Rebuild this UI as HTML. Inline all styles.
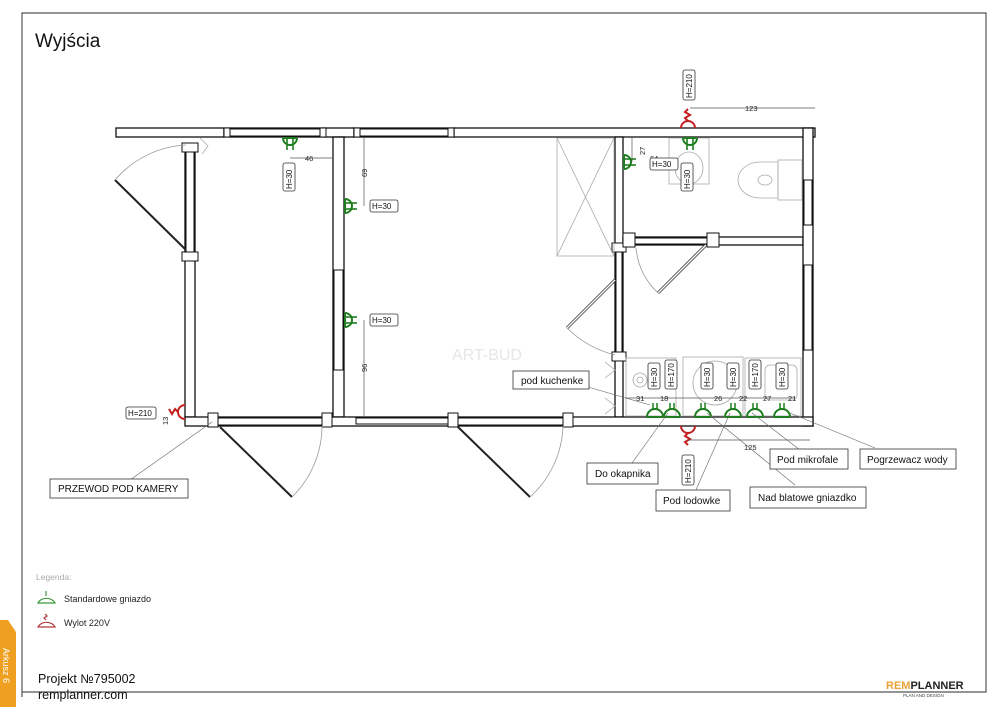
<!DOCTYPE html>
<html><head><meta charset="utf-8"><style>
html,body{margin:0;padding:0;background:#fff;width:1000px;height:707px;overflow:hidden}
svg{display:block}
text{font-family:"Liberation Sans",sans-serif}
</style></head><body>
<svg width="1000" height="707" viewBox="0 0 1000 707" xmlns="http://www.w3.org/2000/svg">
<defs>
<g id="sd"><path d="M-7,0 A7,7 0 0 0 7,0" fill="none" stroke="#1e7d1e" stroke-width="2"/><line x1="-7" y1="0" x2="7" y2="0" stroke="#1e7d1e" stroke-width="2"/><line x1="-3" y1="0" x2="-3" y2="12" stroke="#1e7d1e" stroke-width="1.6"/><line x1="3" y1="0" x2="3" y2="12" stroke="#1e7d1e" stroke-width="1.6"/></g>
<g id="su"><path d="M-8,0 A8,8 0 0 1 8,0" fill="none" stroke="#1e7d1e" stroke-width="2"/><line x1="-8" y1="0" x2="8" y2="0" stroke="#1e7d1e" stroke-width="2"/><line x1="-2" y1="-8" x2="-2" y2="-14" stroke="#1e7d1e" stroke-width="1.5"/><line x1="2" y1="-8" x2="2" y2="-14" stroke="#1e7d1e" stroke-width="1.5"/></g>
</defs>
<!-- frame -->
<polyline points="22,697 22,13 986,13 986,692 22,692" fill="none" stroke="#555" stroke-width="1.2"/>
<text x="35" y="47" font-size="19" fill="#111">Wyjścia</text>

<g stroke="#111" stroke-width="1.3" fill="#fff">
<!-- top wall -->
<rect x="116" y="128" width="108" height="9"/>
<rect x="224" y="128" width="100" height="9" fill="#fff"/>
<rect x="324" y="128" width="30" height="9"/>
<rect x="354" y="128" width="100" height="9"/>
<rect x="454" y="128" width="361" height="9"/>
<!-- left wall -->
<rect x="185" y="145" width="10" height="112" stroke-dasharray="0"/>
<rect x="185" y="257" width="10" height="160"/>
<!-- wall between room1 & room2 -->
<rect x="333" y="137" width="11" height="280"/>
<!-- wall between room2 & right -->
<rect x="615" y="137" width="8" height="280"/>
<!-- bathroom bottom wall -->
<rect x="623" y="237" width="180" height="8"/>
<!-- right wall -->
<rect x="803" y="128" width="10" height="298"/>
<!-- bottom wall -->
<rect x="185" y="417" width="628" height="9"/>
</g>
<!-- window/door insets -->
<g stroke="#111" stroke-width="1" fill="#fff">
<rect x="226" y="129" width="96" height="7"/><rect x="356" y="129" width="96" height="7"/>
<rect x="224" y="128" width="6" height="9"/><rect x="320" y="128" width="6" height="9"/><rect x="354" y="128" width="6" height="9"/><rect x="448" y="128" width="6" height="9"/>
<rect x="186" y="152" width="8" height="100"/>
<rect x="182" y="143" width="16" height="9"/><rect x="182" y="252" width="16" height="9"/>
<rect x="334" y="270" width="9" height="100"/>
<rect x="331" y="137" width="15" height="0.1"/>
<rect x="616" y="250" width="6" height="105"/>
<rect x="612" y="243" width="14" height="9"/><rect x="612" y="352" width="14" height="9"/>
<rect x="630" y="238" width="78" height="6"/>
<rect x="623" y="233" width="12" height="14"/><rect x="707" y="233" width="12" height="14"/>
<rect x="804" y="180" width="8" height="45"/><rect x="804" y="265" width="8" height="85"/>
<rect x="218" y="418" width="104" height="7"/><rect x="458" y="418" width="105" height="7"/>
<rect x="356" y="418" width="98" height="6"/>
<rect x="208" y="413" width="10" height="14"/><rect x="322" y="413" width="10" height="14"/>
<rect x="448" y="413" width="10" height="14"/><rect x="563" y="413" width="10" height="14"/>
</g>
<!-- doors -->
<g fill="none">
<line x1="186" y1="250" x2="115" y2="180" stroke="#222" stroke-width="2"/>
<path d="M115,180 A100,100 0 0 1 186,145" stroke="#999" stroke-width="0.8"/>
<line x1="220" y1="427" x2="292" y2="497" stroke="#222" stroke-width="2"/>
<path d="M292,497 A100,100 0 0 0 322,426" stroke="#999" stroke-width="0.8"/>
<line x1="458" y1="427" x2="530" y2="497" stroke="#222" stroke-width="2"/>
<path d="M530,497 A100,100 0 0 0 563,426" stroke="#999" stroke-width="0.8"/>
<line x1="615" y1="280" x2="567" y2="328" stroke="#333" stroke-width="3"/>
<line x1="615" y1="280" x2="567" y2="328" stroke="#fff" stroke-width="1.4"/>
<path d="M567,328 A105,105 0 0 0 615,355" stroke="#999" stroke-width="0.8"/>
<line x1="706" y1="245" x2="658" y2="293" stroke="#333" stroke-width="3"/>
<line x1="706" y1="245" x2="658" y2="293" stroke="#fff" stroke-width="1.4"/>
<path d="M658,293 A70,70 0 0 1 636,248" stroke="#999" stroke-width="0.8"/>
</g>
<!-- fixtures -->
<g fill="none" stroke="#aaa" stroke-width="0.8">
<rect x="557" y="138" width="57" height="118"/><line x1="557" y1="138" x2="614" y2="256"/><line x1="614" y1="138" x2="557" y2="256"/>
<rect x="669" y="138" width="40" height="46"/><ellipse cx="689" cy="168" rx="14" ry="16"/>
<path d="M778,162 L760,162 A22,18 0 0 0 760,198 L778,198 Z"/><ellipse cx="765" cy="180" rx="7" ry="5"/>
<rect x="778" y="160" width="24" height="40"/>
<rect x="626" y="358" width="50" height="58"/><rect x="683" y="357" width="60" height="59"/><rect x="745" y="358" width="56" height="58"/>
<circle cx="640" cy="380" r="7"/><circle cx="640" cy="380" r="3"/>
<circle cx="715" cy="383" r="22"/>
<rect x="765" y="365" width="32" height="35" rx="5"/>
<path d="M605,362 l10,8 l-10,8 M605,398 l10,8 l-10,8 M200,138 l8,8 l-6,8"/>
</g>
<text x="452" y="360" font-size="16" fill="#e6e6e6">ART-BUD</text>
<!-- sockets -->
<use href="#sd" x="290" y="138"/>
<use href="#sd" x="690" y="138"/>
<g transform="translate(345,206) rotate(-90)"><use href="#sd"/></g>
<g transform="translate(345,320) rotate(-90)"><use href="#sd"/></g>
<g transform="translate(624,162) rotate(-90)"><use href="#sd"/></g>
<use href="#su" x="655" y="417"/><use href="#su" x="672" y="417"/><use href="#su" x="703" y="417"/><use href="#su" x="733" y="417"/><use href="#su" x="755" y="417"/><use href="#su" x="782" y="417"/>
<!-- red outlets -->
<g fill="none" stroke="#c42020" stroke-width="2">
<path d="M681,128 A7,7 0 0 1 695,128"/><path d="M688,121 l-3,-3 l5,-3 l-5,-3 l3,-3"/>
<path d="M681,426 A7,7 0 0 0 695,426"/><path d="M688,433 l-3,3 l5,3 l-5,3 l3,3"/>
<path d="M185,405 A7,7 0 0 0 185,419"/><path d="M178,412 l-3,-3 l-3,5 l-3,-5"/>
</g>
<!-- dims -->
<g stroke="#555" stroke-width="0.7" fill="none">
<line x1="690" y1="108" x2="815" y2="108"/><line x1="688" y1="440" x2="810" y2="440"/>
<line x1="290" y1="158" x2="333" y2="158"/>
<line x1="364" y1="137" x2="364" y2="206"/><line x1="364" y1="320" x2="364" y2="417"/>
<line x1="632" y1="137" x2="632" y2="162"/>
<line x1="625" y1="398" x2="795" y2="398"/>
</g>
<g font-size="7.5" fill="#222">
<text x="745" y="111">123</text><text x="744" y="450">125</text><text x="305" y="161">46</text>
<text x="650" y="161">64</text>
<text x="636" y="401">31</text><text x="660" y="401">18</text><text x="714" y="401">26</text><text x="739" y="401">22</text><text x="763" y="401">27</text><text x="788" y="401">21</text>
<text transform="translate(367,177) rotate(-90)">69</text>
<text transform="translate(367,372) rotate(-90)">96</text>
<text transform="translate(645,155) rotate(-90)">27</text>
<text transform="translate(168,425) rotate(-90)">13</text>
</g>
<!-- H labels -->
<g fill="#fff" stroke="#333" stroke-width="0.8">
<rect x="683" y="70" width="12" height="30" rx="2"/><rect x="283" y="163" width="12" height="28" rx="2"/>
<rect x="370" y="200" width="28" height="12" rx="2"/><rect x="370" y="314" width="28" height="12" rx="2"/>
<rect x="650" y="158" width="28" height="12" rx="2"/><rect x="681" y="163" width="12" height="28" rx="2"/>
<rect x="126" y="407" width="30" height="12" rx="2"/><rect x="682" y="455" width="12" height="30" rx="2"/>
<rect x="648" y="363" width="12" height="26" rx="2"/><rect x="665" y="360" width="12" height="29" rx="2"/>
<rect x="701" y="363" width="12" height="26" rx="2"/><rect x="727" y="363" width="12" height="26" rx="2"/>
<rect x="749" y="360" width="12" height="29" rx="2"/><rect x="776" y="363" width="12" height="26" rx="2"/>
</g>
<g font-size="8" fill="#111">
<text x="372" y="209">H=30</text><text x="372" y="323">H=30</text><text x="652" y="167">H=30</text><text x="128" y="416">H=210</text>
<text transform="translate(692,98) rotate(-90)">H=210</text><text transform="translate(292,189) rotate(-90)">H=30</text>
<text transform="translate(690,189) rotate(-90)">H=30</text><text transform="translate(691,483) rotate(-90)">H=210</text>
<text transform="translate(657,387) rotate(-90)">H=30</text><text transform="translate(674,387) rotate(-90)">H=170</text>
<text transform="translate(710,387) rotate(-90)">H=30</text><text transform="translate(736,387) rotate(-90)">H=30</text>
<text transform="translate(758,387) rotate(-90)">H=170</text><text transform="translate(785,387) rotate(-90)">H=30</text>
</g>
<!-- callouts -->
<g stroke="#666" stroke-width="0.6">
<line x1="212" y1="422" x2="130" y2="480"/>
<line x1="588" y1="387" x2="650" y2="405"/>
<line x1="632" y1="463" x2="668" y2="413"/>
<line x1="695" y1="492" x2="730" y2="413"/>
<line x1="795" y1="485" x2="707" y2="413"/>
<line x1="800" y1="450" x2="752" y2="413"/>
<line x1="875" y1="448" x2="790" y2="413"/>
</g>
<g fill="#fff" stroke="#333" stroke-width="0.8">
<rect x="50" y="479" width="138" height="19"/><rect x="513" y="371" width="76" height="18"/>
<rect x="587" y="463" width="71" height="21"/><rect x="656" y="490" width="74" height="21"/>
<rect x="750" y="487" width="116" height="21"/><rect x="770" y="449" width="78" height="20"/>
<rect x="860" y="449" width="96" height="20"/>
</g>
<g font-size="10" fill="#111">
<text x="58" y="492">PRZEWOD POD KAMERY</text><text x="521" y="384">pod kuchenke</text>
<text x="595" y="477">Do okapnika</text><text x="663" y="504">Pod lodowke</text>
<text x="758" y="501">Nad blatowe gniazdko</text><text x="777" y="463">Pod mikrofale</text>
<text x="867" y="463">Pogrzewacz wody</text>
</g>
<!-- legend -->
<text x="36" y="580" font-size="8.5" fill="#aaa">Legenda:</text>
<g fill="none" stroke="#3a9a3a" stroke-width="1.2"><path d="M38,603 A9,7 0 0 1 55,603 Z"/><line x1="46" y1="596" x2="46" y2="591"/></g>
<text x="64" y="602" font-size="9" fill="#222">Standardowe gniazdo</text>
<g fill="none" stroke="#b03a3a" stroke-width="1.2"><path d="M38,627 A9,7 0 0 1 55,627 Z"/><path d="M46,620 l-2,-2 l3,-2 l-2,-2"/></g>
<text x="64" y="626" font-size="9" fill="#222">Wylot 220V</text>
<!-- footer -->
<text x="38" y="683" font-size="12.5" fill="#111">Projekt №795002</text>
<text x="38" y="699" font-size="12.5" fill="#111">remplanner.com</text>
<path d="M0,620 L8,620 L16,632 L16,707 L0,707 Z" fill="#f0a020"/>
<text transform="translate(3,648) rotate(90)" font-size="9" fill="#fff">Arkusz 6</text>
<text x="886" y="689" font-size="11" font-weight="bold" fill="#e8a33a">REM<tspan fill="#222">PLANNER</tspan></text>
<text x="903" y="697" font-size="4.5" fill="#444">PLAN AND DESIGN</text>
</svg>
</body></html>
